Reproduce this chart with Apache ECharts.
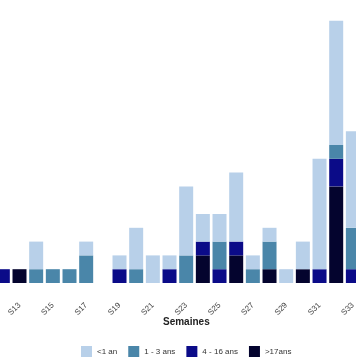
<!DOCTYPE html>
<html>
<head>
<meta charset="utf-8">
<script src="https://cdn.jsdelivr.net/npm/echarts@6/dist/echarts.min.js"></script>
<style>html,body{margin:0;padding:0;background:#fff}#c{width:356px;height:364px}</style>
</head>
<body>
<div id="c"></div>
<script>
var categories = ['S12','S13','S14','S15','S16','S17','S18','S19','S20','S21','S22','S23','S24','S25','S26','S27','S28','S29','S30','S31','S32','S33'];
var under1 =   [0,0,2,0,0,1,0,1,3,2,1,5,2,2,5,1,1,1,2,8,9,7];
var age1to3 =  [0,0,1,1,1,2,0,0,1,0,0,2,0,2,0,1,2,0,0,0,1,3];
var age4to16 = [1,0,0,0,0,0,0,1,0,0,1,0,1,1,1,0,0,0,0,1,2,1];
var over17 =   [0,1,0,0,0,0,0,0,0,0,0,0,2,0,2,0,1,0,1,0,7,0];
var legendNames = ['<1 an','1 - 3 ans','4 - 16 ans','>17ans'];
var colors = {'<1 an':'#b8d0e9','1 - 3 ans':'#4a86a9','4 - 16 ans':'#0b0b88','>17ans':'#04042e'};
var font = 'Liberation Sans, Arial, sans-serif';

var chart = echarts.init(document.getElementById('c'), null, {renderer:'canvas'});
function mk(name, data){
  return {name:name, type:'bar', stack:'t', data:data, barWidth:14,
    itemStyle:{color:colors[name]}, emphasis:{disabled:true}};
}
chart.setOption({
  animation:false,
  backgroundColor:'#ffffff',
  grid:{left:-5.5, right:-5.2, top:7, bottom:81, containLabel:false, outerBoundsMode:'none'},
  xAxis:{type:'category', data:categories,
    axisLine:{show:false}, axisTick:{show:false},
    axisLabel:{rotate:45, margin:21, fontSize:8, color:'#444', fontFamily:font,
      interval:function(i){return i%2===1;}}},
  yAxis:{type:'value', min:0, max:20, show:false, splitLine:{show:false}},
  legend:{data:legendNames, left:81, top:346, padding:0, itemWidth:11, itemHeight:11, itemGap:11,
    icon:'rect', textStyle:{fontSize:8, color:'#333', fontFamily:font}},
  graphic:[{type:'text', left:163, top:317, style:{text:'Semaines', fontSize:10, fontWeight:'bold', fill:'#222', fontFamily:font}}],
  series:[mk('>17ans', over17), mk('4 - 16 ans', age4to16), mk('1 - 3 ans', age1to3), mk('<1 an', under1)]
});
</script>
</body>
</html>
